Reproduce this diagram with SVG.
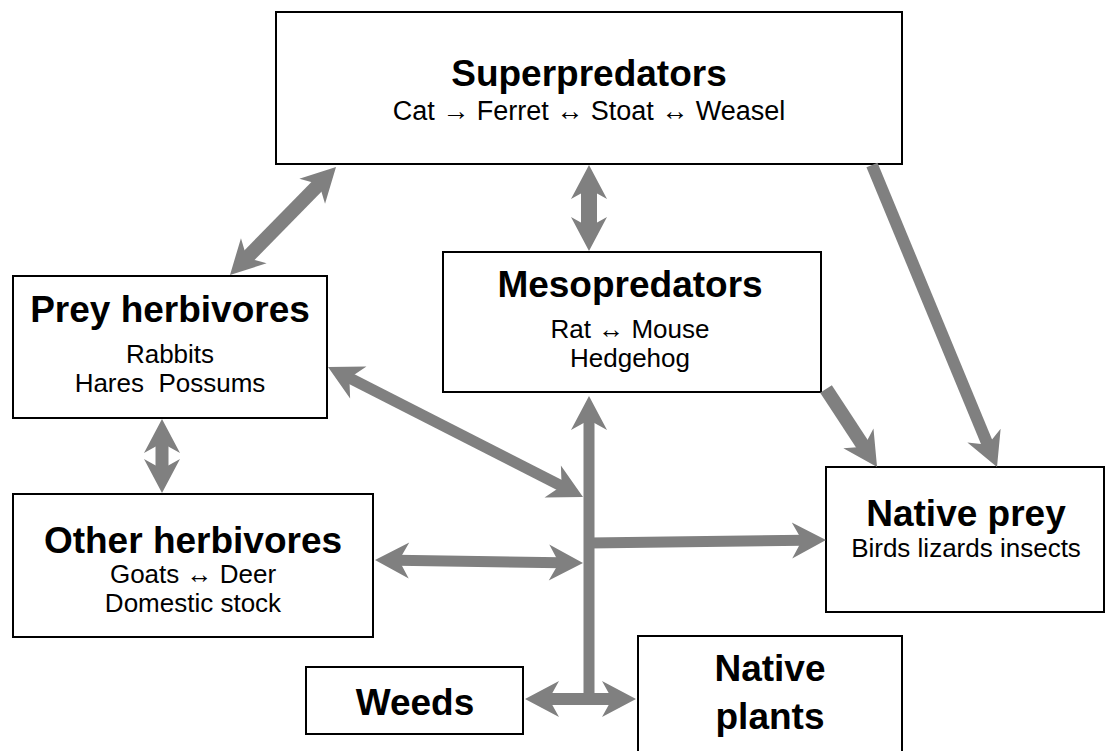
<svg xmlns="http://www.w3.org/2000/svg" width="1105" height="751" viewBox="0 0 1105 751">
<style>
.box{fill:#fff;stroke:#000;stroke-width:2}
.t{font-family:"Liberation Sans",Arial,sans-serif;font-weight:bold;font-size:37px;text-anchor:middle;fill:#000}
.s{font-family:"Liberation Sans",Arial,sans-serif;font-size:26px;text-anchor:middle;fill:#000;white-space:pre}
.c{stroke:#808080;fill:none}
</style>
<defs>
<marker id="ah" markerUnits="userSpaceOnUse" markerWidth="40" markerHeight="40" viewBox="0 -20 36 40" refX="12" refY="0" orient="auto-start-reverse">
<path d="M0,-18 L34,0 L0,18 L10,0 Z" fill="#808080"/>
</marker>
</defs>
<rect width="1105" height="751" fill="#fff"/>
<g id="superpredators">
<rect class="box" x="276" y="12" width="626" height="152"/>
<text class="t" x="589" y="86">Superpredators</text>
<text class="s" x="589" y="120" style="font-size:27px">Cat → Ferret ↔ Stoat ↔ Weasel</text>
</g>
<g id="mesopredators">
<rect class="box" x="443" y="252" width="378" height="140"/>
<text class="t" x="630" y="297">Mesopredators</text>
<text class="s" x="630" y="338">Rat ↔ Mouse</text>
<text class="s" x="630" y="367">Hedgehog</text>
</g>
<g id="prey-herbivores">
<rect class="box" x="13" y="276" width="314" height="142"/>
<text class="t" x="170" y="322">Prey herbivores</text>
<text class="s" x="170" y="363">Rabbits</text>
<text class="s" x="170" y="392" xml:space="preserve">Hares  Possums</text>
</g>
<g id="other-herbivores">
<rect class="box" x="13" y="494" width="360" height="143"/>
<text class="t" x="193" y="553">Other herbivores</text>
<text class="s" x="193" y="583">Goats ↔ Deer</text>
<text class="s" x="193" y="612">Domestic stock</text>
</g>
<g id="native-prey">
<rect class="box" x="826" y="467" width="278" height="145"/>
<text class="t" x="966" y="526">Native prey</text>
<text class="s" x="966" y="557">Birds lizards insects</text>
</g>
<g id="weeds">
<rect class="box" x="306" y="667" width="217" height="67"/>
<text class="t" x="415" y="715">Weeds</text>
</g>
<g id="native-plants">
<rect class="box" x="638" y="636" width="264" height="120"/>
<text class="t" x="770" y="681">Native</text>
<text class="t" x="770" y="729">plants</text>
</g>
<g id="connectors">
<line class="c" x1="320.6" y1="182.7" x2="245.4" y2="259.3" stroke-width="14" marker-start="url(#ah)" marker-end="url(#ah)"/>
<line class="c" x1="589" y1="187" x2="589" y2="229" stroke-width="16" marker-start="url(#ah)" marker-end="url(#ah)"/>
<line class="c" x1="872" y1="165" x2="988.6" y2="446.7" stroke-width="12" marker-end="url(#ah)"/>
<line class="c" x1="826" y1="389" x2="865" y2="448.5" stroke-width="14" marker-end="url(#ah)"/>
<line class="c" x1="347.6" y1="377" x2="563.4" y2="487" stroke-width="11" marker-start="url(#ah)" marker-end="url(#ah)"/>
<line class="c" x1="589" y1="694" x2="589" y2="418" stroke-width="11" marker-end="url(#ah)"/>
<line class="c" x1="589" y1="543" x2="804" y2="540.3" stroke-width="11" marker-end="url(#ah)"/>
<line class="c" x1="397" y1="560.3" x2="561" y2="562.7" stroke-width="11" marker-start="url(#ah)" marker-end="url(#ah)"/>
<line class="c" x1="547" y1="699" x2="614" y2="699" stroke-width="12" marker-start="url(#ah)" marker-end="url(#ah)"/>
<line class="c" x1="162" y1="441" x2="162" y2="471" stroke-width="13" marker-start="url(#ah)" marker-end="url(#ah)"/>
</g>
</svg>
